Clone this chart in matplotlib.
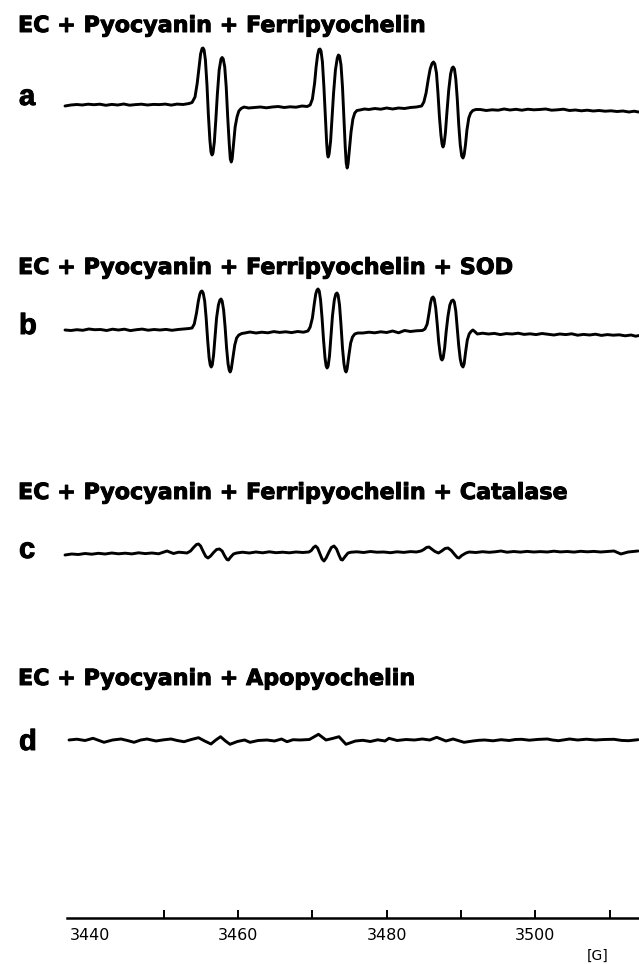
import matplotlib
matplotlib.use('Agg')
from matplotlib import pyplot as plt
from matplotlib import patheffects

# field axis (Gauss)
tick_fields = [3440, 3450, 3460, 3470, 3480, 3490, 3500, 3510]
tick_labels = ['3440', '', '3460', '', '3480', '', '3500', '']

titles = ["EC + Pyocyanin + Ferripyochelin",
          "EC + Pyocyanin + Ferripyochelin + SOD",
          "EC + Pyocyanin + Ferripyochelin + Catalase",
          "EC + Pyocyanin + Apopyochelin"]
panel_letters = ['a', 'b', 'c', 'd']

# spectrum a : field [G], signal [a.u.]
field_a = [3436.7, 3437.5, 3438.3, 3439.0, 3439.8, 3440.6, 3441.4, 3442.2, 3443.0, 3443.8,
           3444.6, 3445.4, 3446.2, 3447.0, 3447.8, 3448.6, 3449.4, 3450.2, 3451.0, 3451.8,
           3452.6, 3453.4, 3453.8,
           3454.2, 3454.5, 3454.74, 3454.95, 3455.15, 3455.28, 3455.42, 3455.6, 3455.81,
           3456.0, 3456.2, 3456.35, 3456.49, 3456.62, 3456.8, 3457.0, 3457.2, 3457.45,
           3457.7, 3457.85, 3458.0, 3458.2, 3458.4, 3458.6, 3458.8, 3458.95, 3459.08,
           3459.2, 3459.4, 3459.6, 3459.85, 3460.1, 3460.4, 3460.8,
           3461.4, 3462.2, 3463.0, 3463.8, 3464.6, 3465.4, 3466.2, 3467.0, 3467.8, 3468.6,
           3469.3, 3469.7,
           3470.0, 3470.3, 3470.5, 3470.7, 3470.88, 3471.02, 3471.16, 3471.35, 3471.55,
           3471.75, 3471.92, 3472.03, 3472.12, 3472.25, 3472.45, 3472.65, 3472.85, 3473.1,
           3473.35, 3473.5, 3473.65, 3473.85, 3474.05, 3474.25, 3474.42, 3474.55, 3474.68,
           3474.8, 3475.0, 3475.2, 3475.45, 3475.7, 3476.0, 3476.4,
           3477.0, 3477.6, 3478.4, 3479.2, 3480.0, 3480.8, 3481.6, 3482.4, 3483.2, 3484.0,
           3484.7,
           3485.0, 3485.3, 3485.6, 3485.85, 3486.1, 3486.3, 3486.48, 3486.7, 3486.9,
           3487.1, 3487.3, 3487.45, 3487.58, 3487.72, 3487.9, 3488.1, 3488.35, 3488.6,
           3488.8, 3488.95, 3489.12, 3489.3, 3489.5, 3489.7, 3489.9, 3490.1, 3490.27,
           3490.42, 3490.6, 3490.8, 3491.05, 3491.3, 3491.6, 3492.0,
           3492.6, 3493.4, 3494.2, 3495.0, 3495.8, 3496.6, 3497.4, 3498.2, 3499.0, 3499.8,
           3500.6, 3501.4, 3502.2, 3503.0, 3503.8, 3504.6, 3505.4, 3506.2, 3507.0, 3507.8,
           3508.6, 3509.4, 3510.2, 3511.0, 3511.8, 3512.6, 3513.3, 3513.9]
signal_a = [-1.0, 0.0, 0.5, 0.0, 0.8, 0.3, 0.8, -0.3, 0.6, 0.0,
            1.0, -0.2, 0.4, 0.8, 0.0, 0.6, 0.4, 0.9, -0.1, 0.9,
            0.5, 1.5, 2.5,
            8, 22, 38, 51, 56.5, 57, 55, 45, 20,
            -10, -35, -47, -50, -48, -37, -15, 10, 35,
            46, 47.5, 46, 38, 18, -12, -38, -54, -57,
            -54, -38, -22, -12, -6, -3.5, -2,
            -3.0, -2.5, -2.0, -2.8, -2.0, -1.5, -2.5, -1.8, -2.2, -1.0,
            -1.5, 0.0,
            6, 22, 38, 50, 55.5, 56, 54, 43, 18,
            -12, -38, -49, -52, -49, -36, -12, 12, 35,
            47, 50, 49, 40, 18, -15, -42, -58, -63,
            -59, -43, -27, -14, -8, -5.5, -5,
            -4.0, -4.5, -3.5, -4.2, -3.0, -4.0, -3.0, -3.5, -2.5, -2.0,
            -1.0,
            3, 12, 26, 36, 41.5, 43, 41, 32, 12,
            -12, -30, -39, -42, -39, -28, -8, 15, 31,
            37, 38, 36, 26, 6, -20, -40, -51, -53,
            -50, -40, -25, -13, -8, -5.5, -4.5,
            -4.5, -5.5, -4.8, -5.2, -4.0, -5.0, -4.3, -5.2, -4.2, -4.8,
            -4.5, -4.0, -5.2, -4.8, -4.2, -5.5, -5.0, -5.8, -5.2, -6.0,
            -5.5, -6.2, -5.8, -6.5, -6.0, -7.0, -6.2, -7.0]

# spectrum b (+ SOD)
field_b = [3436.7, 3437.5, 3438.3, 3439.1, 3439.9, 3440.7, 3441.5, 3442.3, 3443.1, 3443.9,
           3444.7, 3445.5, 3446.3, 3447.1, 3447.9, 3448.7, 3449.5, 3450.3, 3451.1, 3451.9,
           3452.7, 3453.4, 3453.8,
           3454.1, 3454.4, 3454.65, 3454.85, 3455.0, 3455.14, 3455.3, 3455.5, 3455.7,
           3455.9, 3456.1, 3456.25, 3456.38, 3456.52, 3456.7, 3456.9, 3457.1, 3457.35,
           3457.55, 3457.7, 3457.85, 3458.05, 3458.25, 3458.45, 3458.65, 3458.8, 3458.93,
           3459.08, 3459.3, 3459.55, 3459.8, 3460.1, 3460.5, 3460.9,
           3461.6, 3462.4, 3463.2, 3464.0, 3464.8, 3465.6, 3466.4, 3467.2, 3468.0, 3468.8,
           3469.4,
           3469.7, 3470.0, 3470.25, 3470.45, 3470.62, 3470.76, 3470.92, 3471.1, 3471.3,
           3471.5, 3471.7, 3471.85, 3471.98, 3472.12, 3472.3, 3472.5, 3472.7, 3472.95,
           3473.15, 3473.31, 3473.46, 3473.65, 3473.85, 3474.05, 3474.25, 3474.4, 3474.53,
           3474.67, 3474.9, 3475.15, 3475.4, 3475.7, 3476.1,
           3476.8, 3477.6, 3478.4, 3479.2, 3480.0, 3480.8, 3481.6, 3482.4, 3483.2, 3484.0,
           3484.8,
           3485.15, 3485.45, 3485.7, 3485.9, 3486.08, 3486.24, 3486.4, 3486.6, 3486.8,
           3487.0, 3487.2, 3487.33, 3487.45, 3487.6, 3487.8, 3488.0, 3488.25, 3488.5,
           3488.72, 3488.93, 3489.1, 3489.3, 3489.5, 3489.7, 3489.9, 3490.08, 3490.27,
           3490.42, 3490.62, 3490.85, 3491.1, 3491.35, 3491.6, 3491.85, 3492.2,
           3492.9, 3493.7, 3494.5, 3495.3, 3496.1, 3496.9, 3497.7, 3498.5, 3499.3, 3500.1,
           3500.9, 3501.7, 3502.5, 3503.3, 3504.1, 3504.9, 3505.7, 3506.5, 3507.3, 3508.1,
           3508.9, 3509.7, 3510.5, 3511.3, 3512.1, 3512.9, 3513.5, 3513.9]
signal_b = [0.0, -0.5, 0.3, -0.3, 1.0, 0.3, 0.5, -0.5, 0.8, 0.0,
            0.8, -0.6, 0.3, 0.9, -0.2, 0.5, 0.0, 0.6, -0.3, 0.5,
            1.0, 1.5, 2.0,
            6, 17, 29, 36, 38.5, 39, 37, 29, 12,
            -10, -28, -35, -37, -35, -25, -6, 12, 25,
            30, 31, 29, 20, 3, -18, -34, -40, -42,
            -39, -28, -15, -8, -5, -3.5, -3,
            -2.0, -3.0, -2.2, -2.8, -1.6, -2.4, -1.8, -2.6, -1.5, -2.2,
            -1.0,
            3, 12, 26, 36, 40, 41, 39, 30, 12,
            -10, -28, -36, -38, -36, -26, -6, 14, 30,
            36, 37, 35, 25, 5, -18, -34, -40, -42,
            -39, -26, -13, -7, -4, -3,
            -3.0, -2.2, -2.8, -1.8, -2.5, -1.0, -2.8, -0.5, -1.5, -0.8,
            -0.5,
            1, 6, 17, 27, 32, 33, 31, 22, 6,
            -12, -24, -29, -30, -28, -18, -2, 14, 25,
            29, 30, 28, 19, 2, -16, -29, -35, -37,
            -34, -22, -10, -4, -1.5, 0.0, -1.5, -4,
            -3.2, -4.0, -3.4, -4.6, -3.6, -4.0, -3.2, -4.4, -3.8, -4.6,
            -3.5, -4.2, -5.0, -4.0, -4.6, -3.8, -5.2, -4.4, -5.0, -4.2,
            -5.4, -4.6, -5.2, -4.8, -5.8, -5.0, -6.2, -5.6]

# spectrum c (+ catalase)
field_c = [3436.7, 3437.6, 3438.5, 3439.4, 3440.3, 3441.2, 3442.1, 3443.0, 3443.9, 3444.8,
           3445.7, 3446.6, 3447.5, 3448.4, 3449.3, 3450.43, 3451.3, 3452.0, 3452.5,
           3453.12, 3453.6, 3454.0, 3454.4, 3454.67, 3454.95, 3455.3, 3455.65, 3455.95,
           3456.3, 3456.7, 3457.1, 3457.5, 3457.85, 3458.2, 3458.5, 3458.7, 3459.0,
           3459.38, 3459.8,
           3460.6, 3461.5, 3462.4, 3463.3, 3464.2, 3465.1, 3466.0, 3466.9, 3467.8, 3468.7,
           3469.54, 3469.85, 3470.15, 3470.42, 3470.7, 3471.0, 3471.3, 3471.56, 3471.85,
           3472.2, 3472.55, 3472.91, 3473.25, 3473.6, 3473.85, 3474.05, 3474.35, 3474.79,
           3475.2,
           3476.0, 3476.9, 3477.8, 3478.7, 3479.6, 3480.5, 3481.4, 3482.3, 3483.2, 3484.0,
           3484.62, 3485.0, 3485.35, 3485.69, 3486.05, 3486.5, 3486.97, 3487.4, 3487.85,
           3488.25, 3488.7, 3489.2, 3489.5, 3489.73, 3490.1, 3490.67, 3491.1,
           3492.0, 3492.9, 3493.8, 3494.6, 3495.38, 3496.2, 3497.1, 3498.0, 3498.9, 3499.8,
           3500.7, 3501.6, 3502.5, 3503.4, 3504.3, 3505.2, 3506.1, 3507.0, 3507.9, 3508.8,
           3509.7, 3510.59, 3511.53, 3512.5, 3513.83]
signal_c = [-2.0, -1.0, -1.5, -0.5, -1.2, -0.3, -1.0, 0.0, -0.8, -0.2,
            -0.9, 0.2, -0.6, 0.0, -0.8, 2.0, -0.5, 0.8, 0.5,
            0.0, 2.0, 5.5, 8.5, 9.0, 7.0, 1.5, -3.5, -5.0,
            -3.0, 0.5, 3.5, 4.0, 2.0, -3.0, -6.5, -7.0, -4.0,
            -1.0, 0.0,
            0.8, 0.0, 1.0, 0.2, 1.2, 0.3, 0.8, 0.2, 1.0, 0.5,
            1.0, 2.5, 5.5, 7.0, 5.0, -0.5, -6.0, -8.0, -5.0,
            0.5, 5.5, 7.0, 4.0, -2.5, -6.5, -7.0, -4.0, 0.0,
            0.8,
            1.2, 0.5, 1.5, 0.8, 1.0, 0.3, 1.2, 0.6, 1.4, 1.0,
            2.0, 3.5, 5.5, 6.0, 4.0, 1.5, 0.0, 2.0, 4.5,
            5.0, 2.5, -2.0, -4.5, -5.0, -2.5, 0.0, 1.0,
            0.5, 1.3, 0.7, 1.2, 2.0, 0.8, 1.5, 0.9, 1.6, 1.0,
            1.4, 1.0, 1.8, 1.1, 1.5, 0.9, 1.7, 1.2, 1.6, 1.0,
            1.5, 2.0, -1.0, 1.0, 2.0]

# spectrum d (apopyochelin)
field_d = [3437.24, 3438.3, 3439.4, 3440.47, 3441.95, 3443.1, 3444.24, 3445.1, 3445.99,
           3446.9, 3447.74, 3448.95, 3450.0, 3450.97, 3451.8, 3452.72, 3453.7, 3454.67,
           3455.5, 3456.35, 3457.0, 3457.64, 3458.3, 3458.91, 3459.9, 3460.87, 3461.60,
           3462.7, 3463.89, 3464.9, 3465.85, 3466.58, 3467.4, 3468.33, 3469.6, 3470.82,
           3471.83, 3472.7, 3473.58, 3474.52, 3475.79, 3476.8, 3477.8, 3478.8, 3479.77,
           3480.31, 3481.4, 3482.6, 3483.74, 3484.8, 3485.8, 3486.73, 3487.98, 3488.93,
           3490.41, 3491.6, 3492.4, 3493.19, 3494.3, 3495.4, 3496.5, 3497.3, 3498.16,
           3499.2, 3500.4, 3501.63, 3502.3, 3503.12, 3504.62, 3505.7, 3506.9, 3508.09,
           3509.3, 3510.59, 3511.6, 3512.57, 3513.83]
signal_d = [0.0, 0.8, -0.5, 1.7, -2.3, 0.0, 1.0, -0.5, -2.3,
            0.0, 1.0, -1.0, 0.2, 1.0, -0.5, -1.7, 0.5, 2.3,
            -1.0, -4.0, 0.0, 3.3, -1.0, -4.3, -1.5, 0.0, -2.3,
            -0.5, 0.0, -1.0, 1.0, -1.7, 0.3, 0.0, 0.5, 5.7,
            0.0, 1.5, 3.3, -4.3, -1.0, -0.3, -1.5, 0.2, -1.0,
            1.7, -0.5, 0.5, 0.0, 1.0, 0.0, 2.7, -1.0, 1.0,
            -2.3, -1.0, -0.3, 0.0, -0.8, 0.3, -0.5, 0.5, 0.7,
            -0.2, 0.6, 1.0, 0.0, -0.7, 1.0, 0.0, 0.8, 0.0,
            0.5, 0.7, -0.4, -0.7, 0.3]

fields = [field_a, field_b, field_c, field_d]
signals = [signal_a, signal_b, signal_c, signal_d]

W, H = 639, 964
fig = plt.figure(figsize=(W / 100, H / 100), dpi=100)
ax = fig.add_axes([65 / W, 46 / H, (W - 65) / W, 918 / H])

# vertical placement of each trace (pixels above the field axis)
offsets = [813, 588, 365, 178]
for f, s, off in zip(fields, signals, offsets):
    ax.plot(f, [v + off for v in s], color='black', lw=2.1, solid_joinstyle='round',
            solid_capstyle='round', clip_on=False)

ax.set_xlim(3436.7, 3513.96)
ax.set_ylim(0, 918)
for side in ['top', 'left', 'right']:
    ax.spines[side].set_visible(False)
ax.spines['bottom'].set_linewidth(1.8)
ax.spines['bottom'].set_bounds(3437, 3514)
ax.set_yticks([])
ax.set_xticks(tick_fields)
ax.set_xticklabels(tick_labels, fontsize=11.5)
ax.tick_params(axis='x', direction='in', length=6, width=1.4, pad=7)
ax.xaxis.get_major_ticks()[0].tick1line.set_visible(False)
ax.patch.set_visible(False)

fig.text(598 / W, 1 - 956 / H, '[G]', fontsize=10, ha='center', va='center')

heavy = [patheffects.withStroke(linewidth=0.7, foreground='black')]
title_base = [32, 274, 499, 685]
letter_base = [105, 334, 558, 750]
for t, tb, l, lb in zip(titles, title_base, panel_letters, letter_base):
    fig.text(18 / W, 1 - tb / H, t, fontsize=16, fontweight='bold',
             family='DejaVu Sans', va='baseline', ha='left', path_effects=heavy)
    fig.text(19 / W, 1 - lb / H, l, fontsize=21, fontweight='bold',
             family='Liberation Sans', va='baseline', ha='left', path_effects=heavy)

fig.savefig('out.png', dpi=100)
